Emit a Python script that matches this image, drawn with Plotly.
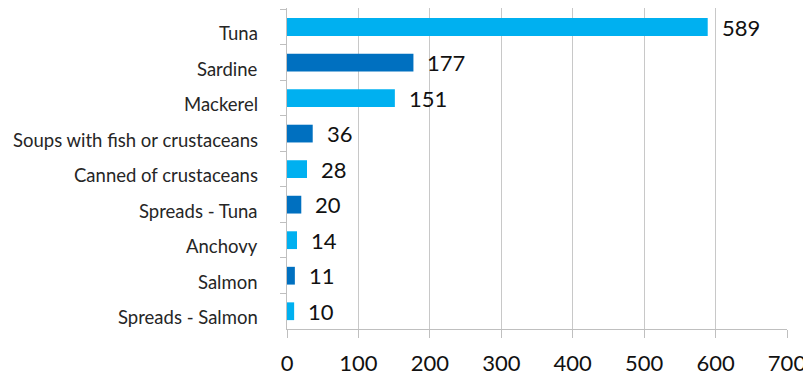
import plotly.graph_objects as go

categories = ["Tuna", "Sardine", "Mackerel", "Soups with fish or crustaceans",
              "Canned of crustaceans", "Spreads - Tuna", "Anchovy", "Salmon",
              "Spreads - Salmon"]
values = [589, 177, 151, 36, 28, 20, 14, 11, 10]
colors = ["#00B0F0", "#0070C0"] * 5
colors = colors[:len(values)]

fig = go.Figure()
fig.add_trace(go.Bar(
    y=categories, x=values, orientation="h",
    marker=dict(color=colors, line=dict(width=0)),
    width=0.5, hoverinfo="x+y",
))
for c, v in zip(categories, values):
    fig.add_annotation(x=v, y=c, text=str(v), showarrow=False,
                       xanchor="left", xshift=12,
                       font=dict(family="Lato", size=22, color="#111111"))
    fig.add_annotation(x=0, xref="paper", y=c, text=c, showarrow=False,
                       xanchor="right", xshift=-27, yshift=-6,
                       font=dict(family="Lato", size=18.5, color="#262626"))

# page body has an 8px default margin; compensate so the plot lands in place
fig.update_layout(
    width=803, height=368,
    margin=dict(l=279, r=24, t=0, b=47, autoexpand=False),
    plot_bgcolor="white", paper_bgcolor="white",
    showlegend=False,
    font=dict(family="Lato"),
    xaxis=dict(range=[0, 700], dtick=100, tick0=0,
               showgrid=True, gridcolor="#C8C8C8", gridwidth=1,
               showline=True, linecolor="#BFBFBF", linewidth=1,
               ticks="outside", ticklen=8, tickcolor="#BFBFBF",
               tickfont=dict(family="Lato", size=22, color="#111111"),
               ticklabelstandoff=7, zeroline=False, fixedrange=True,
               automargin=False),
    yaxis=dict(categoryorder="array", categoryarray=categories,
               autorange="reversed",
               showline=True, linecolor="#BFBFBF", linewidth=1,
               ticks="outside", ticklen=6, tickcolor="#BFBFBF",
               tickson="boundaries", showticklabels=False,
               showgrid=False, fixedrange=True, automargin=False),
)
fig.write_html("out.html")
